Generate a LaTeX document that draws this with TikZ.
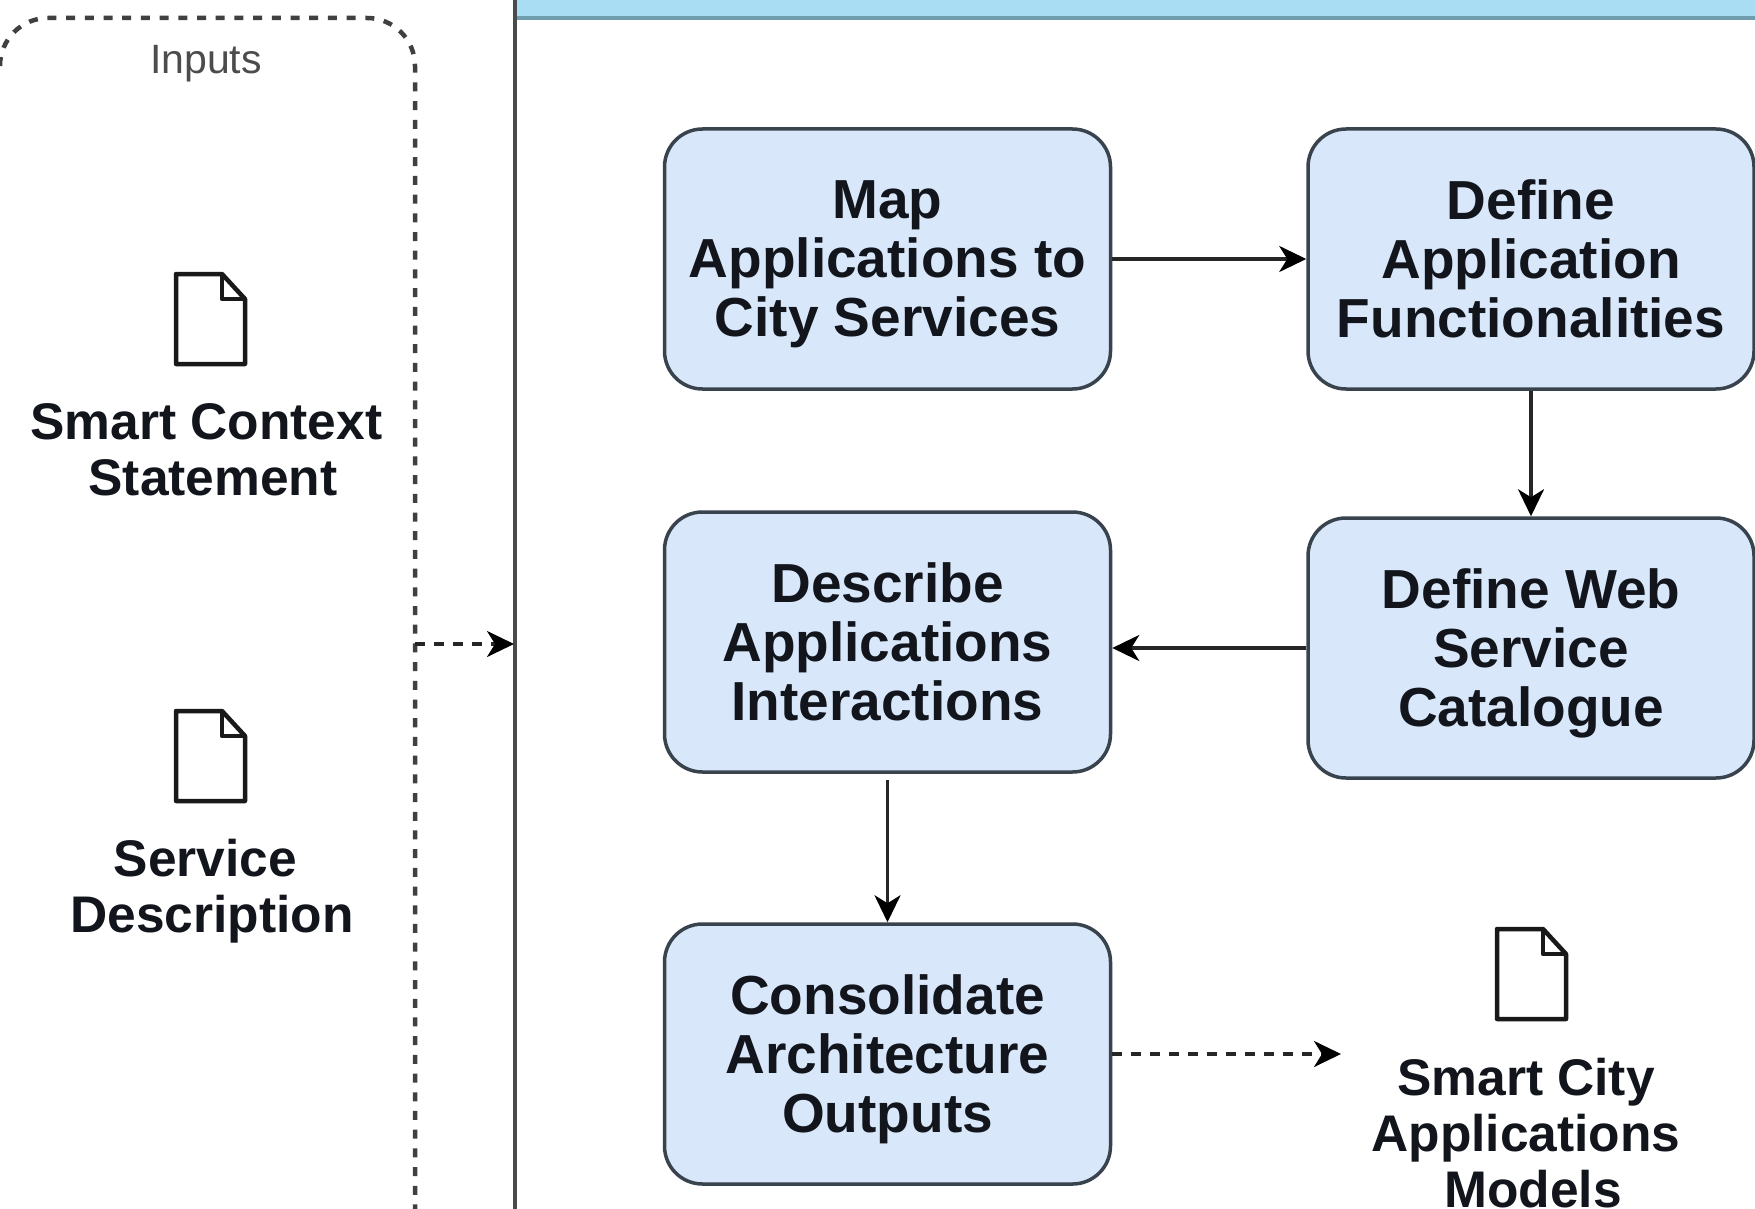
\documentclass[tikz,border=0pt]{standalone}
\usepackage{fontspec}
\setmainfont{Liberation Sans}
\usetikzlibrary{arrows.meta,calc}
\definecolor{boxfill}{HTML}{D8E7FA}
\definecolor{boxline}{HTML}{39434E}
\definecolor{bandfill}{HTML}{A9DDF3}
\definecolor{bandline}{HTML}{6F9DAE}
\definecolor{frameline}{HTML}{4A4A4A}
\definecolor{inktext}{HTML}{12161C}
\tikzset{
  taskbox/.style={draw=boxline,fill=boxfill,line width=3.5pt,rounded corners=38pt,
    minimum width=446pt,minimum height=260pt,inner sep=0pt,align=center,text=inktext,
    font=\fontsize{55}{59}\selectfont\bfseries},
  sidelabel/.style={inner sep=0pt,align=center,text=inktext,
    font=\fontsize{51.5}{56}\selectfont\bfseries},
  flowline/.style={line width=3.2pt,draw=black!85,
    -{Stealth[length=27pt,width=26pt,inset=8pt,black]}},
  dashline/.style={flowline,dash pattern=on 10pt off 9pt},
  dotframe/.style={draw=black!75,line width=4.5pt,dash pattern=on 9pt off 9.7pt},
  pics/docicon/.style={code={
    \draw[line width=4.5pt,draw=black!90,fill=white,line join=round]
      (-34,-45) -- (12,-45) -- (35,-20) -- (35,45) -- (-34,45) -- cycle;
    \draw[line width=4.5pt,draw=black!90,line join=round]
      (12,-45) -- (12,-20) -- (35,-20);
  }}
}
\begin{document}
\begin{tikzpicture}[x=1pt,y=-1pt]
\useasboundingbox (0,0) rectangle (1755,1209);
\clip (0,0) rectangle (1755,1209);
\fill[white] (0,0) rectangle (1755,1209);

% header band and frame
\fill[bandfill] (515,0) rectangle (1755,18);
\draw[bandline,line width=4pt] (515,18) -- (1755,18);
\draw[frameline,line width=4pt] (515,0) -- (515,1209);
\coordinate (frameIn) at (514,644);

% inputs frame
\draw[dotframe,rounded corners=48pt] (0,66) -- (0,18) -- (415,18) -- (415,1215);
\coordinate (inputsOut) at (415,644);
\node[inner sep=0pt,text=black!70,font=\fontsize{41}{46}\selectfont] (inputs) at (206,64) {Inputs};

% documents
\pic at (210,319) {docicon};
\node[sidelabel] (context) at (213,450) {Smart Context\hspace*{13pt}\\Statement};
\pic at (210,756) {docicon};
\node[sidelabel] (service) at (212,891) {Service\hspace*{13pt}\\Description};
\pic at (1531,974) {docicon};
\node[sidelabel] (models) at (1526,1133) {Smart City\\Applications\\\hspace*{14pt}\smash{Models}};

% tasks
\node[taskbox] (map) at (887.5,259) {Map\\Applications to\\\smash{City Services}};
\node[taskbox] (define) at (1531,259) {Define\\Application\\Functionalities};
\node[taskbox] (web) at (1531,648) {Define Web\\Service\\\smash{Catalogue}};
\node[taskbox] (describe) at (887.5,642) {Describe\\Applications\\Interactions};
\node[taskbox] (consolidate) at (887.5,1054) {Consolidate\\Architecture\\\smash{Outputs}};
\coordinate (outEnd) at (1341,1054);

% connectors
\draw[flowline] (map.east) -- (define.west);
\draw[flowline] (define.south) -- (web.north);
\draw[flowline] (web.west) -- (web.west -| describe.east);
\draw[flowline,shorten <=6pt] (describe.south) -- (consolidate.north);
\draw[dashline] (consolidate.east) -- (outEnd);
\draw[dashline] (inputsOut) -- (frameIn);
\end{tikzpicture}
\end{document}
